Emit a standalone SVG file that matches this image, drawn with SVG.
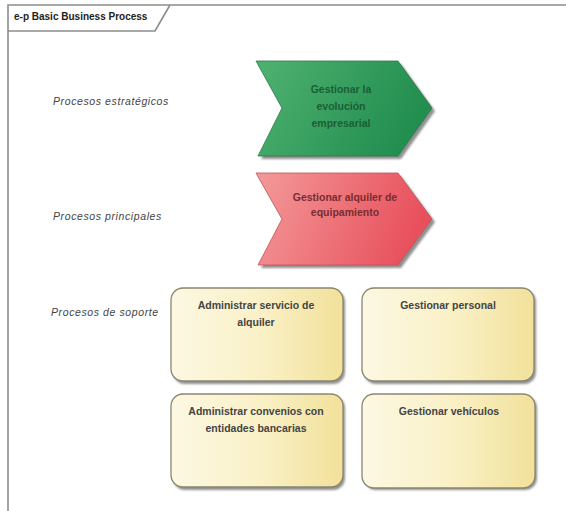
<svg xmlns="http://www.w3.org/2000/svg" width="566" height="511" viewBox="0 0 566 511">
<defs>
<linearGradient id="gGreen" x1="0" y1="0" x2="1" y2="0.3">
<stop offset="0" stop-color="#4fb271"/>
<stop offset="1" stop-color="#228e50"/>
</linearGradient>
<linearGradient id="gRed" x1="0" y1="0" x2="1" y2="0.2">
<stop offset="0" stop-color="#f39a9a"/>
<stop offset="1" stop-color="#e8505c"/>
</linearGradient>
<linearGradient id="gYel" x1="0" y1="0" x2="1" y2="0">
<stop offset="0" stop-color="#fcf8e2"/>
<stop offset="0.5" stop-color="#faf1c8"/>
<stop offset="1" stop-color="#f1e19a"/>
</linearGradient>
<filter id="blur" x="-10%" y="-10%" width="130%" height="130%"><feGaussianBlur stdDeviation="1"/></filter>
</defs>
<style>
.frame{fill:none;stroke:#8c8c8c;stroke-width:1.6}
.title{font-family:"Liberation Sans",Arial,sans-serif;font-size:10px;font-weight:bold;fill:#222}
.lane{font-family:"Liberation Sans",Arial,sans-serif;font-size:10.5px;font-style:italic;fill:#444;letter-spacing:0.6px}
.shadow{fill:#8f8f8f;filter:url(#blur)}
.box{fill:url(#gYel);stroke:#8a8670;stroke-width:1.3}
.btxt{font-family:"Liberation Sans",Arial,sans-serif;font-size:10.5px;font-weight:bold;fill:#444;text-anchor:middle}
.gtxt{font-family:"Liberation Sans",Arial,sans-serif;font-size:10.5px;font-weight:bold;fill:#1b5e34;text-anchor:middle}
.rtxt{font-family:"Liberation Sans",Arial,sans-serif;font-size:10.5px;font-weight:bold;fill:#7a2c30;text-anchor:middle}
</style>
<rect width="566" height="511" fill="#ffffff"/>
<g id="frame">
<path class="frame" d="M8,511 L8,5 L566,5"/>
<path class="frame" d="M8,31 L155,31 L170,5"/>
<text class="title" x="14" y="20">e-p Basic Business Process</text>
</g>
<g id="lanes">
<text class="lane" x="53" y="105">Procesos estratégicos</text>
<text class="lane" x="53" y="220">Procesos principales</text>
<text class="lane" x="51" y="316">Procesos de soporte</text>
</g>
<g id="n1">
<polygon class="shadow" points="259,64 401,64 435,111 401,159 261,159 285,111"/>
<polygon points="256,61 398,61 432,108 398,156 258,156 282,108" fill="url(#gGreen)" stroke="#2a7a48" stroke-width="0.8"/>
<text class="gtxt" x="341" y="93">Gestionar la</text>
<text class="gtxt" x="341" y="110">evolución</text>
<text class="gtxt" x="341" y="127">empresarial</text>
</g>
<g id="n2">
<polygon class="shadow" points="259,176 401,176 435,222 401,268 261,268 285,222"/>
<polygon points="256,173 398,173 432,219 398,265 258,265 282,219" fill="url(#gRed)" stroke="#c25258" stroke-width="0.8"/>
<text class="rtxt" x="345" y="201">Gestionar alquiler de</text>
<text class="rtxt" x="345" y="216">equipamiento</text>
</g>
<g id="n3">
<rect class="shadow" x="173" y="290" width="172" height="94" rx="12"/>
<rect class="box" x="171" y="288" width="172" height="93" rx="12"/>
<text class="btxt" x="256" y="309">Administrar servicio de</text>
<text class="btxt" x="256" y="326">alquiler</text>
</g>
<g id="n4">
<rect class="shadow" x="364" y="290" width="172" height="94" rx="12"/>
<rect class="box" x="362" y="288" width="172" height="93" rx="12"/>
<text class="btxt" x="448" y="309">Gestionar personal</text>
</g>
<g id="n5">
<rect class="shadow" x="173" y="396" width="172" height="94" rx="12"/>
<rect class="box" x="171" y="394" width="172" height="93" rx="12"/>
<text class="btxt" x="256" y="415">Administrar convenios con</text>
<text class="btxt" x="256" y="432">entidades bancarias</text>
</g>
<g id="n6">
<rect class="shadow" x="364" y="396" width="173" height="94" rx="12"/>
<rect class="box" x="362" y="394" width="173" height="94" rx="12"/>
<text class="btxt" x="449" y="415">Gestionar vehículos</text>
</g>
<g id="connectors"></g>
</svg>
